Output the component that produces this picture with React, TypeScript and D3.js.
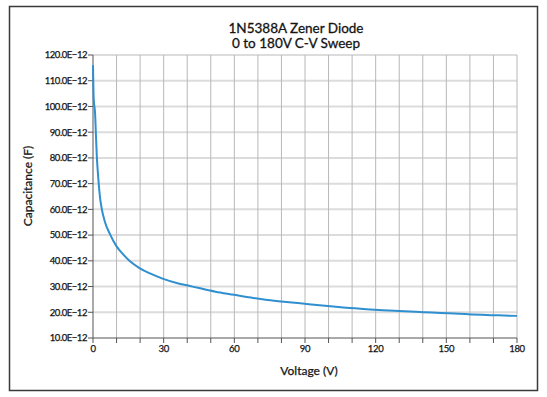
import React from "react";
import * as d3 from "d3";

const voltage = [0, 0.3, 0.9, 1.2, 1.6, 2.3, 3, 3.7, 5, 7.2, 10, 12.9, 15.7, 19.9, 24.2, 29.8, 35.5, 41.2, 45, 52, 60, 67, 74, 81, 88, 95, 102, 109, 116, 123, 130, 137, 144, 151, 158, 165, 172, 180];
const capacitancePF = [116, 103, 97, 90, 81, 71.5, 64.5, 60.3, 55.3, 50.4, 45.6, 42.4, 39.8, 37.1, 35.1, 33.0, 31.4, 30.2, 29.4, 28.0, 26.8, 25.7, 24.8, 24.1, 23.5, 22.8, 22.2, 21.7, 21.2, 20.8, 20.5, 20.2, 19.9, 19.6, 19.3, 19.0, 18.8, 18.6];

const xTicks = [0, 30, 60, 90, 120, 150, 180];
const xGrid = d3.range(0, 181, 10);
const yTicks = [10, 20, 30, 40, 50, 60, 70, 80, 90, 100, 110, 120];
const titleLines = ["1N5388A Zener Diode", "0 to 180V C-V Sweep"];
const xLabel = "Voltage (V)";
const yLabel = "Capacitance (F)";

const W = 547, H = 397;
const left = 93, right = 517, top = 55, bottom = 338;
const FONT = "Lato, 'Liberation Sans', sans-serif";
const TXT = "#141414";

export default function App() {
  const x = d3.scaleLinear().domain([0, 180]).range([left, right]);
  const y = d3.scaleLinear().domain([10, 120]).range([bottom, top]);
  const pts = voltage.map((v, i) => [v, capacitancePF[i]] as [number, number]);
  const line = d3.line<[number, number]>().x(d => x(d[0])).y(d => y(d[1])).curve(d3.curveMonotoneX);

  return (
    <svg width={W} height={H} style={{ position: "absolute", left: 0, top: 0, background: "#fff" }}>
      <rect x={9.5} y={6.5} width={528} height={384} fill="#fff" stroke="#3a3a3a" strokeWidth={1.5} />
      {yTicks.filter(t => t > 10).map(t => (
        <line key={"hg" + t} x1={left} x2={right} y1={y(t)} y2={y(t)} stroke="#dcdcdc" strokeWidth={2} />
      ))}
      {xGrid.filter(t => t > 0).map(t => (
        <line key={"vg" + t} x1={x(t)} x2={x(t)} y1={top} y2={bottom} stroke="#b8b8b8" strokeWidth={1} />
      ))}
      <line x1={left} x2={left} y1={top} y2={bottom} stroke="#555" strokeWidth={1} />
      <line x1={left} x2={right} y1={bottom} y2={bottom} stroke="#555" strokeWidth={1} />
      {yTicks.map(t => (
        <g key={"yt" + t}>
          <line x1={left - 5} x2={left} y1={y(t)} y2={y(t)} stroke="#555" strokeWidth={1} />
          <text x={left - 6} y={y(t)} dy="0.35em" textAnchor="end" fontSize={9.5} letterSpacing={-0.45} fontFamily={FONT} fill={TXT} stroke={TXT} strokeWidth={0.25}>
            {`${t.toFixed(1)}E\u221212`}
          </text>
        </g>
      ))}
      {xGrid.map(t => (
        <line key={"xt" + t} x1={x(t)} x2={x(t)} y1={bottom} y2={bottom + 5} stroke="#555" strokeWidth={1} />
      ))}
      {xTicks.map(t => (
        <text key={"xl" + t} x={x(t)} y={352} textAnchor="middle" fontSize={9.5} letterSpacing={-0.3} fontFamily={FONT} fill={TXT} stroke={TXT} strokeWidth={0.25}>
          {t}
        </text>
      ))}
      <path d={line(pts) || ""} fill="none" stroke="#2f8fcf" strokeWidth={2} strokeLinejoin="round" />
      {titleLines.map((t, i) => (
        <text key={"t" + i} x={296} y={32.5 + i * 15.5} textAnchor="middle" fontSize={13.5} fontFamily={FONT} fill={TXT} stroke={TXT} strokeWidth={0.3}>
          {t}
        </text>
      ))}
      <text x={309} y={375} textAnchor="middle" fontSize={12} fontFamily={FONT} fill={TXT} stroke={TXT} strokeWidth={0.25}>{xLabel}</text>
      <text transform={`translate(32,186) rotate(-90)`} textAnchor="middle" fontSize={12} fontFamily={FONT} fill={TXT} stroke={TXT} strokeWidth={0.25}>{yLabel}</text>
    </svg>
  );
}
